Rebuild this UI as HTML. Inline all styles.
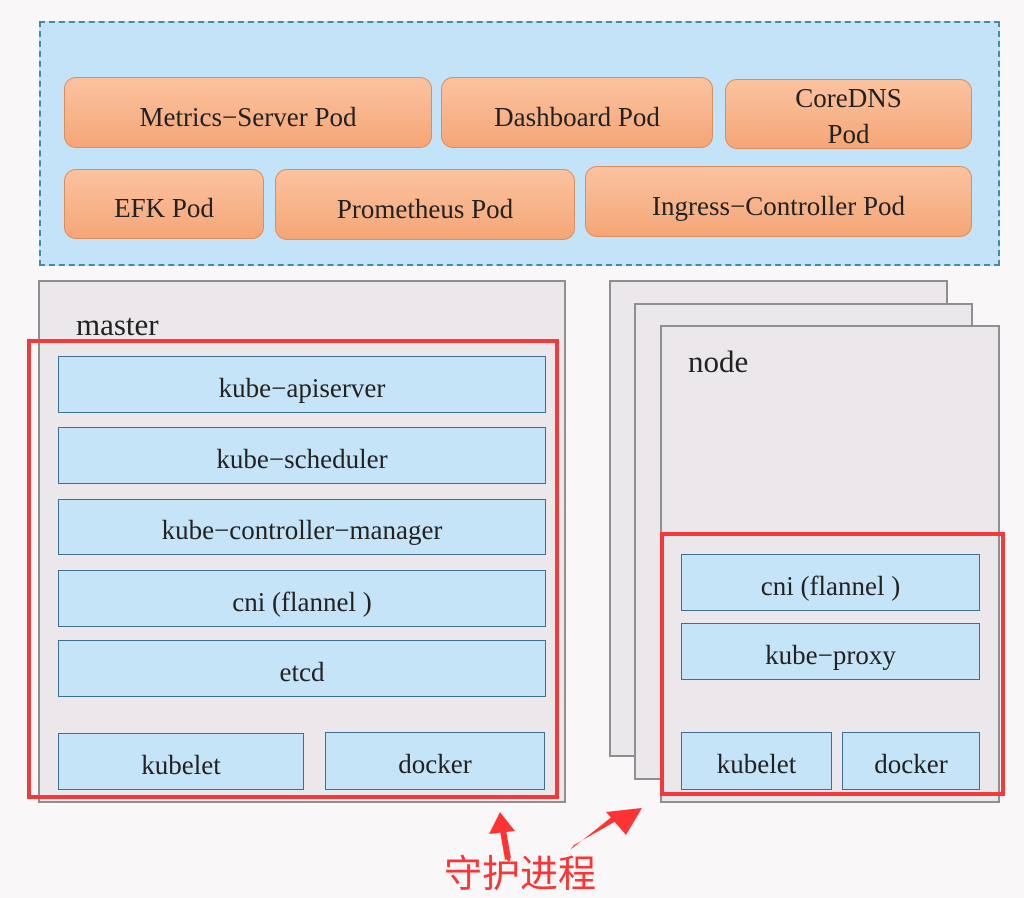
<!DOCTYPE html>
<html><head><meta charset="utf-8"><style>
*{margin:0;padding:0;box-sizing:border-box}
body{width:1024px;height:894px;background:#faf7f9;position:relative;overflow:hidden;font-family:"Liberation Serif","Noto Serif CJK SC",serif;color:#222}
.a{position:absolute}
.pod{position:absolute;background:linear-gradient(#fbc3a0,#f5a677);border:1.5px solid #e08c5a;border-radius:12px;display:flex;align-items:center;justify-content:center;text-align:center;font-size:27px;line-height:36px;padding-top:8px}
.gray{position:absolute;background:#ebe7ea;border:2px solid #8f8f93}
.blue{position:absolute;background:#c5e4f8;border:1.5px solid #3d6f8e;display:flex;align-items:center;justify-content:center;font-size:27px;padding-top:7px}
.red{position:absolute;border:4px solid #f23a3a}
</style></head><body>
<div class="a" style="left:39px;top:21px;width:961px;height:245px;background:#c3e4f8;border:2px dashed #3f8ea8"></div>
<div class="pod" style="left:64px;top:77px;width:368px;height:71px">Metrics−Server Pod</div>
<div class="pod" style="left:441px;top:77px;width:272px;height:71px">Dashboard Pod</div>
<div class="pod" style="left:725px;top:79px;width:247px;height:70px;padding-top:4px">CoreDNS<br>Pod</div>
<div class="pod" style="left:64px;top:169px;width:200px;height:70px">EFK Pod</div>
<div class="pod" style="left:275px;top:169px;width:300px;height:71px">Prometheus Pod</div>
<div class="pod" style="left:585px;top:166px;width:387px;height:71px">Ingress−Controller Pod</div>

<div class="gray" style="left:38px;top:280px;width:528px;height:523px"></div>
<div class="a" style="left:76px;top:307px;font-size:31px">master</div>
<div class="red" style="left:27px;top:339px;width:532px;height:460px"></div>
<div class="blue" style="left:58px;top:356px;width:488px;height:57px">kube−apiserver</div>
<div class="blue" style="left:58px;top:427px;width:488px;height:57px">kube−scheduler</div>
<div class="blue" style="left:58px;top:499px;width:488px;height:56px">kube−controller−manager</div>
<div class="blue" style="left:58px;top:570px;width:488px;height:57px">cni (flannel )</div>
<div class="blue" style="left:58px;top:640px;width:488px;height:57px">etcd</div>
<div class="blue" style="left:58px;top:733px;width:246px;height:57px">kubelet</div>
<div class="blue" style="left:325px;top:732px;width:220px;height:58px">docker</div>

<div class="gray" style="left:609px;top:280px;width:339px;height:477px"></div>
<div class="gray" style="left:634px;top:303px;width:339px;height:477px"></div>
<div class="gray" style="left:660px;top:325px;width:340px;height:478px"></div>
<div class="a" style="left:688px;top:344px;font-size:31px">node</div>
<div class="red" style="left:660px;top:532px;width:345px;height:264px"></div>
<div class="blue" style="left:681px;top:554px;width:299px;height:57px">cni (flannel )</div>
<div class="blue" style="left:681px;top:623px;width:299px;height:57px">kube−proxy</div>
<div class="blue" style="left:681px;top:732px;width:151px;height:58px">kubelet</div>
<div class="blue" style="left:842px;top:732px;width:138px;height:58px">docker</div>

<svg class="a" style="left:0;top:0" width="1024" height="894">
<g fill="#f33" stroke="none">
<polygon points="505,860 511,858 506,830 500,831"/>
<polygon points="500,812 489,834 515,831"/>
<polygon points="570,850 574,845 618,820 614,815"/>
<polygon points="642,808 606,812 626,835"/>
</g>
</svg>
<div class="a" style="left:444px;top:848px;font-size:38px;color:#f33;font-family:'Noto Sans CJK SC',sans-serif;line-height:46px">守护进程</div>
</body></html>
